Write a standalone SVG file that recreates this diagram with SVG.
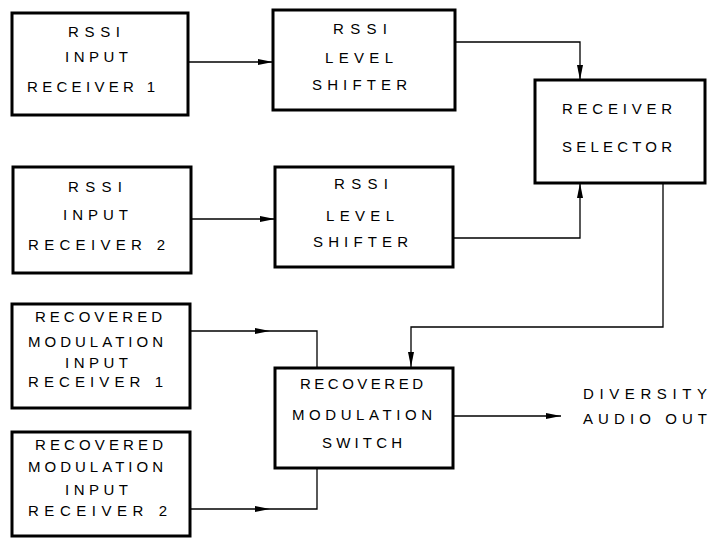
<svg xmlns="http://www.w3.org/2000/svg" width="709" height="539" viewBox="0 0 709 539">
<style>
.box{fill:#fff;stroke:#000;stroke-width:3}
.t{font-family:"Liberation Sans",Arial,sans-serif;font-size:15px;fill:#000}
.c{fill:none;stroke:#000;stroke-width:1.3}
.a{marker-end:url(#ah)}
</style>
<defs>
<marker id="ah" markerUnits="userSpaceOnUse" markerWidth="16" markerHeight="8" refX="15" refY="4" orient="auto">
<path d="M0,1 L15,4 L0,7 z" fill="#000"/>
</marker>
</defs>
<rect width="709" height="539" fill="#fff"/>
<g id="connectors">
<path class="c a" d="M188,62 H273"/>
<path class="c a" d="M191,219 H275"/>
<path class="c a" d="M455,42 H580 V80"/>
<path class="c a" d="M453,238 H580 V183"/>
<path class="c a" d="M663,183 V327 H411 V367"/>
<path class="c a" d="M190,331 H270"/>
<path class="c" d="M270,331 H317 V368"/>
<path class="c a" d="M190,509 H270"/>
<path class="c" d="M270,509 H317 V468"/>
<path class="c a" d="M453,416 H561"/>
</g>
<g id="rssi-input-1">
<rect class="box" x="12" y="13" width="176" height="102"/>
<text class="t" x="68" y="37" textLength="52" lengthAdjust="spacing">RSSI</text>
<text class="t" x="65" y="62" textLength="63" lengthAdjust="spacing">INPUT</text>
<text class="t" x="27" y="92" textLength="128" lengthAdjust="spacing">RECEIVER 1</text>
</g>
<g id="rssi-level-shifter-1">
<rect class="box" x="273" y="10" width="182" height="100"/>
<text class="t" x="333" y="34" textLength="54" lengthAdjust="spacing">RSSI</text>
<text class="t" x="325" y="63" textLength="68" lengthAdjust="spacing">LEVEL</text>
<text class="t" x="312" y="90" textLength="95" lengthAdjust="spacing">SHIFTER</text>
</g>
<g id="receiver-selector">
<rect class="box" x="535" y="80" width="170" height="103"/>
<text class="t" x="562" y="114" textLength="110" lengthAdjust="spacing">RECEIVER</text>
<text class="t" x="562" y="152" textLength="110" lengthAdjust="spacing">SELECTOR</text>
</g>
<g id="rssi-input-2">
<rect class="box" x="13" y="167" width="178" height="106"/>
<text class="t" x="68" y="192" textLength="54" lengthAdjust="spacing">RSSI</text>
<text class="t" x="63" y="220" textLength="65" lengthAdjust="spacing">INPUT</text>
<text class="t" x="28" y="250" textLength="137" lengthAdjust="spacing">RECEIVER 2</text>
</g>
<g id="rssi-level-shifter-2">
<rect class="box" x="275" y="167" width="178" height="100"/>
<text class="t" x="334" y="189" textLength="54" lengthAdjust="spacing">RSSI</text>
<text class="t" x="326" y="221" textLength="68" lengthAdjust="spacing">LEVEL</text>
<text class="t" x="313" y="247" textLength="95" lengthAdjust="spacing">SHIFTER</text>
</g>
<g id="recovered-modulation-input-1">
<rect class="box" x="12" y="304" width="178" height="104"/>
<text class="t" x="35" y="322" textLength="127" lengthAdjust="spacing">RECOVERED</text>
<text class="t" x="28" y="347" textLength="135" lengthAdjust="spacing">MODULATION</text>
<text class="t" x="65" y="368" textLength="63" lengthAdjust="spacing">INPUT</text>
<text class="t" x="28" y="387" textLength="135" lengthAdjust="spacing">RECEIVER 1</text>
</g>
<g id="recovered-modulation-input-2">
<rect class="box" x="12" y="432" width="178" height="104"/>
<text class="t" x="35" y="450" textLength="128" lengthAdjust="spacing">RECOVERED</text>
<text class="t" x="28" y="472" textLength="135" lengthAdjust="spacing">MODULATION</text>
<text class="t" x="65" y="495" textLength="63" lengthAdjust="spacing">INPUT</text>
<text class="t" x="28" y="516" textLength="139" lengthAdjust="spacing">RECEIVER 2</text>
</g>
<g id="recovered-modulation-switch">
<rect class="box" x="275" y="368" width="178" height="100"/>
<text class="t" x="300" y="389" textLength="123" lengthAdjust="spacing">RECOVERED</text>
<text class="t" x="292" y="420" textLength="140" lengthAdjust="spacing">MODULATION</text>
<text class="t" x="322" y="448" textLength="80" lengthAdjust="spacing">SWITCH</text>
</g>
<g id="diversity-audio-out">
<text class="t" x="583" y="399" textLength="124" lengthAdjust="spacing">DIVERSITY</text>
<text class="t" x="583" y="424" textLength="124" lengthAdjust="spacing">AUDIO OUT</text>
</g>
</svg>
